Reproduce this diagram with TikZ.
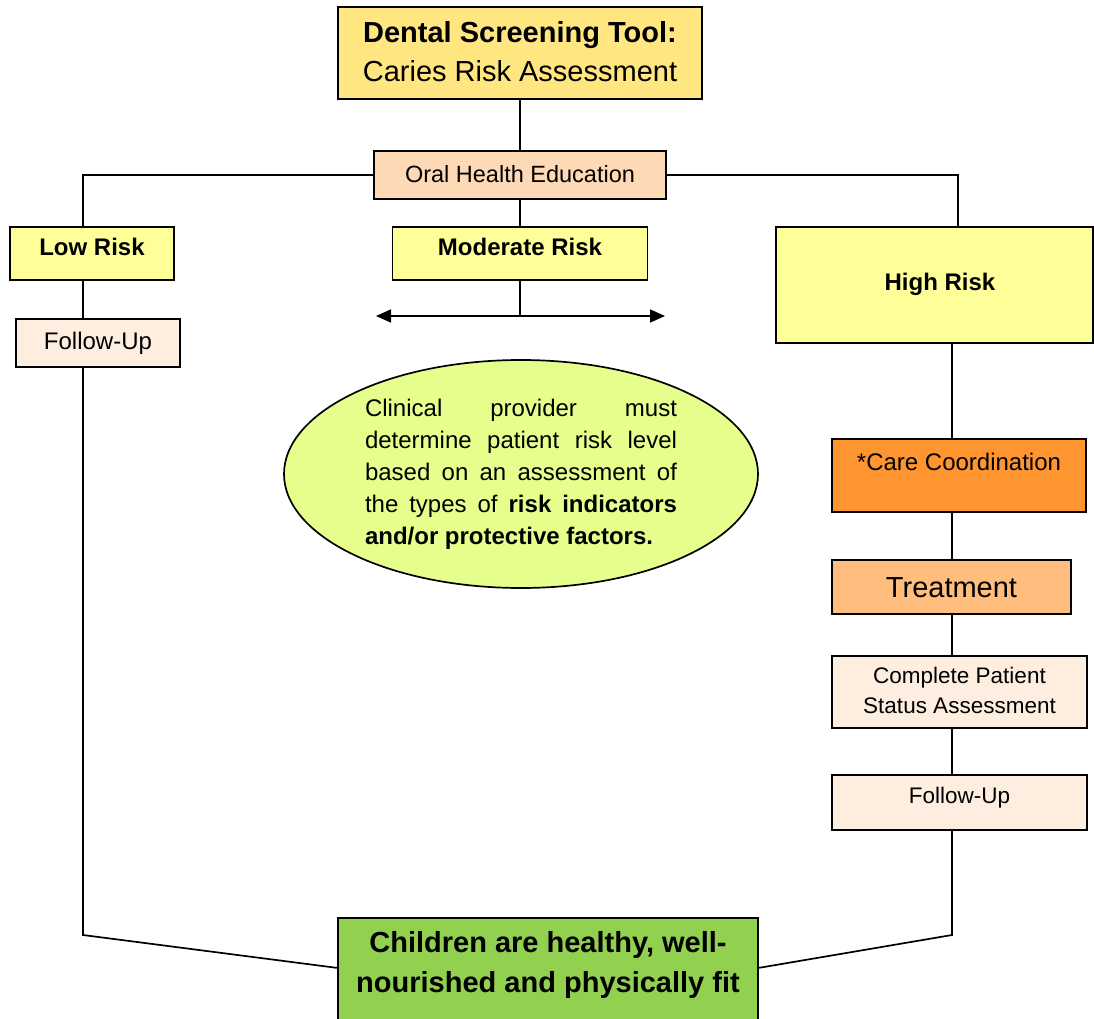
\documentclass[tikz,border=0pt]{standalone}
\usepackage{fontspec}
\setmainfont{Liberation Sans}
\usetikzlibrary{calc,arrows.meta,shapes.geometric}

\definecolor{titleyellow}{HTML}{FFE680}
\definecolor{riskyellow}{HTML}{FFFF99}
\definecolor{peach}{HTML}{FDD9B5}
\definecolor{cream}{HTML}{FDEEE0}
\definecolor{careorange}{HTML}{FF9530}
\definecolor{treatorange}{HTML}{FFBE7D}
\definecolor{goalgreen}{HTML}{92D050}
\definecolor{ovalgreen}{HTML}{E6FF8C}

\begin{document}
\begin{tikzpicture}[x=1pt,y=-1pt,>={Triangle[length=15pt,width=13pt]},
	box/.style={draw,line width=1.7pt,inner sep=0pt,anchor=north},
	conn/.style={line width=1.7pt}]
	\clip (0,0) rectangle (1094,1019);

	% title box on the top
	\node[box,fill=titleyellow,minimum width=364pt,text height=36pt,text depth=56pt,
		font=\fontsize{29}{39}\selectfont] (top) at (520,6)
		{\begin{tabular}[t]{@{}c@{}}\textbf{Dental Screening Tool:}\\Caries Risk Assessment\end{tabular}};
	\node[box,fill=peach,minimum width=292pt,text height=32pt,text depth=16pt,
		font=\fontsize{23.5}{28}\selectfont] (oral) at (520,150) {Oral Health Education};

	% the three risk levels
	\node[box,fill=riskyellow,minimum width=164pt,text height=29pt,text depth=24pt,
		font=\fontsize{24}{28}\selectfont\bfseries] (low) at (92,226) {Low Risk};
	\node[box,fill=riskyellow,minimum width=255pt,text height=29pt,text depth=24pt,
		font=\fontsize{24}{28}\selectfont\bfseries] (mod) at (520,226) {Moderate Risk};
	\node[box,fill=riskyellow,minimum width=317pt,text height=64pt,text depth=52pt,
		font=\fontsize{24}{28}\selectfont\bfseries] (high) at (934.5,226) {\hspace*{11pt}High Risk};

	% low risk branch
	\node[box,fill=cream,minimum width=164pt,text height=31pt,text depth=17pt,
		font=\fontsize{24}{28}\selectfont] (fuLow) at (98,318) {Follow-Up};

	% high risk branch
	\node[box,fill=careorange,minimum width=254pt,text height=32pt,text depth=41pt,
		font=\fontsize{24}{28}\selectfont] (care) at (959,438) {*Care Coordination};
	\node[box,fill=treatorange,minimum width=239pt,text height=38pt,text depth=16pt,
		font=\fontsize{29}{34}\selectfont] (treat) at (951.5,559) {Treatment};
	\node[box,fill=cream,minimum width=255pt,text height=28pt,text depth=44pt,
		font=\fontsize{22.5}{30}\selectfont] (status) at (959.5,655)
		{\begin{tabular}[t]{@{}c@{}}Complete Patient\\Status Assessment\end{tabular}};
	\node[box,fill=cream,minimum width=255pt,text height=29pt,text depth=26pt,
		font=\fontsize{22.5}{28}\selectfont] (fuHigh) at (959.5,774) {Follow-Up};

	% goal at the bottom
	\node[box,fill=goalgreen,minimum width=420pt,text height=35pt,text depth=78pt,
		font=\fontsize{29}{40}\selectfont\bfseries] (goal) at (548,917)
		{\begin{tabular}[t]{@{}c@{}}Children are healthy, well-\\nourished and physically fit\end{tabular}};

	% oval with the note
	\node[draw,ellipse,fill=ovalgreen,line width=1.7pt,minimum width=474pt,minimum height=228pt,
		inner sep=0pt,text width=312pt,align=justify,font=\fontsize{24}{32}\selectfont] (note) at (521,474)
		{Clinical provider must\linebreak determine patient risk level\linebreak based on an assessment of\linebreak
		the types of \textbf{risk indicators}\linebreak \textbf{and/or protective factors.}};

	% bend points of the connectors
	\coordinate (lbend) at (83,935);
	\coordinate (rbend) at (952,935);
	\coordinate (goalL) at (338,968);
	\coordinate (goalR) at (758,968);
	\coordinate (fork) at (520,316);
	\coordinate (forkL) at (376,316);
	\coordinate (forkR) at (665,316);

	% connectors
	\draw[conn] (top.south) -- (oral.north);
	\draw[conn] (oral.west) -| (low.north -| lbend);
	\draw[conn] (oral.east) -| ([xshift=23.5pt]high.north);
	\draw[conn] (oral.south) -- (mod.north);
	\draw[conn] (low.south -| lbend) -- (fuLow.north -| lbend);
	\draw[conn] (fuLow.south -| lbend) -- (lbend) -- (goalL);
	\draw[conn] (mod.south) -- (fork);
	\draw[conn,<->] (forkL) -- (forkR);
	\draw[conn] (high.south -| rbend) -- (care.north -| rbend);
	\draw[conn] (care.south -| rbend) -- (treat.north -| rbend);
	\draw[conn] (treat.south -| rbend) -- (status.north -| rbend);
	\draw[conn] (status.south -| rbend) -- (fuHigh.north -| rbend);
	\draw[conn] (fuHigh.south -| rbend) -- (rbend) -- (goalR);
\end{tikzpicture}
\end{document}
